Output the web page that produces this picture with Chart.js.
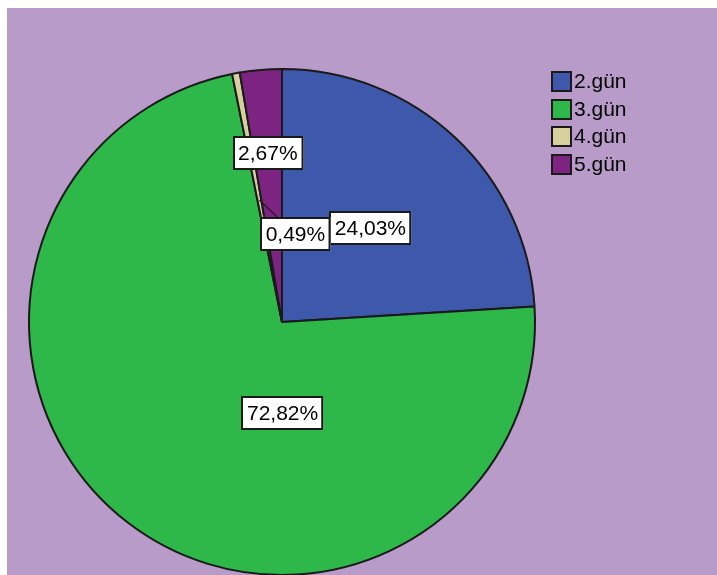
<!DOCTYPE html>
<html>
<head>
<meta charset="utf-8">
<script src="https://cdn.jsdelivr.net/npm/chart.js@4"></script>
<style>
  html, body { margin: 0; padding: 0; overflow: hidden; background: #fff; }
  #wrap { position: absolute; left: 0; top: 0; width: 717px; height: 580px; }
</style>
</head>
<body>
<div id="wrap"><canvas id="c" width="717" height="580"></canvas></div>
<script>
// ---- data ----
const categories = ["2.gün", "3.gün", "4.gün", "5.gün"];
const percentages = [24.03, 72.82, 0.49, 2.67];
const sliceColors = ["#3E59AC", "#2EB84A", "#D8D09C", "#7D2483"];

// ---- label placement (fraction of radius along mid-angle, plus shift) ----
const labelRadiusFrac = [0.51, 0.45, 0.49, 0.67];
const labelShift = [[0, 0], [70, 1], [36, 34], [0, 0]];
const labelLeader = [false, false, true, false];

const bgPlugin = {
  id: 'bg',
  beforeDraw(chart) {
    const ctx = chart.ctx;
    ctx.save();
    ctx.fillStyle = '#ffffff';
    ctx.fillRect(0, 0, chart.width, chart.height);
    ctx.fillStyle = '#B89BC8';
    ctx.fillRect(7, 8, chart.width - 7, chart.height - 8);
    ctx.restore();
  }
};

const labelPlugin = {
  id: 'boxLabels',
  afterDatasetsDraw(chart) {
    const ctx = chart.ctx;
    const meta = chart.getDatasetMeta(0);
    ctx.save();
    ctx.font = '21px "Liberation Sans", Arial, sans-serif';
    ctx.textAlign = 'center';
    ctx.textBaseline = 'middle';
    const boxes = [];
    meta.data.forEach((arc, i) => {
      const p = arc.getProps(['x', 'y', 'startAngle', 'endAngle', 'outerRadius'], true);
      const mid = (p.startAngle + p.endAngle) / 2;
      const ax = p.x + Math.cos(mid) * p.outerRadius * labelRadiusFrac[i];
      const ay = p.y + Math.sin(mid) * p.outerRadius * labelRadiusFrac[i];
      const cx = ax + labelShift[i][0];
      const cy = ay + labelShift[i][1];
      const text = percentages[i].toFixed(2).replace('.', ',') + '%';
      const w = ctx.measureText(text).width + 11;
      const h = 34;
      boxes.push({ax, ay, cx, cy, w, h, text, leader: labelLeader[i]});
    });
    // leader lines
    boxes.forEach(b => {
      if (!b.leader) return;
      const dx = b.cx - b.ax, dy = b.cy - b.ay;
      const t = Math.min((b.w / 2) / Math.abs(dx || 1e-9), (b.h / 2) / Math.abs(dy || 1e-9));
      const ex = b.cx - dx * t, ey = b.cy - dy * t;
      ctx.strokeStyle = '#1a1a1a';
      ctx.lineWidth = 1.3;
      ctx.beginPath();
      ctx.moveTo(b.ax, b.ay);
      ctx.lineTo(ex, ey);
      ctx.stroke();
    });
    boxes.forEach(b => {
      const x = Math.round(b.cx - b.w / 2), y = Math.round(b.cy - b.h / 2);
      ctx.fillStyle = '#ffffff';
      ctx.fillRect(x, y, b.w, b.h);
      ctx.strokeStyle = '#1a1a1a';
      ctx.lineWidth = 2;
      ctx.strokeRect(x + 1, y + 1, b.w - 2, b.h - 2);
      ctx.fillStyle = '#000000';
      ctx.fillText(b.text, b.cx, b.cy + 1);
    });
    ctx.restore();
  }
};

const legendPlugin = {
  id: 'customLegend',
  afterDraw(chart) {
    const ctx = chart.ctx;
    const ds = chart.data.datasets[0];
    ctx.save();
    ctx.font = '21px "Liberation Sans", Arial, sans-serif';
    ctx.textBaseline = 'middle';
    ctx.textAlign = 'left';
    const x0 = 551, y0 = 71, step = 27.5, sz = 21;
    chart.data.labels.forEach((lab, i) => {
      const y = Math.round(y0 + i * step);
      ctx.fillStyle = ds.backgroundColor[i];
      ctx.fillRect(x0, y, sz, sz);
      ctx.strokeStyle = '#1a1a1a';
      ctx.lineWidth = 2;
      ctx.strokeRect(x0 + 1, y + 1, sz - 2, sz - 2);
      ctx.fillStyle = '#000000';
      ctx.fillText(lab, x0 + sz + 2, y + sz / 2 + 1);
    });
    ctx.restore();
  }
};

new Chart(document.getElementById('c'), {
  type: 'pie',
  data: {
    labels: categories,
    datasets: [{
      data: percentages,
      backgroundColor: sliceColors,
      borderColor: '#1a1a1a',
      borderWidth: 2
    }]
  },
  options: {
    responsive: false,
    devicePixelRatio: 1,
    animation: false,
    events: [],
    layout: { padding: { left: 28, top: 68, right: 181, bottom: 4 } },
    plugins: {
      legend: { display: false },
      tooltip: { enabled: false },
      title: { display: false }
    }
  },
  plugins: [bgPlugin, labelPlugin, legendPlugin]
});
</script>
</body>
</html>
